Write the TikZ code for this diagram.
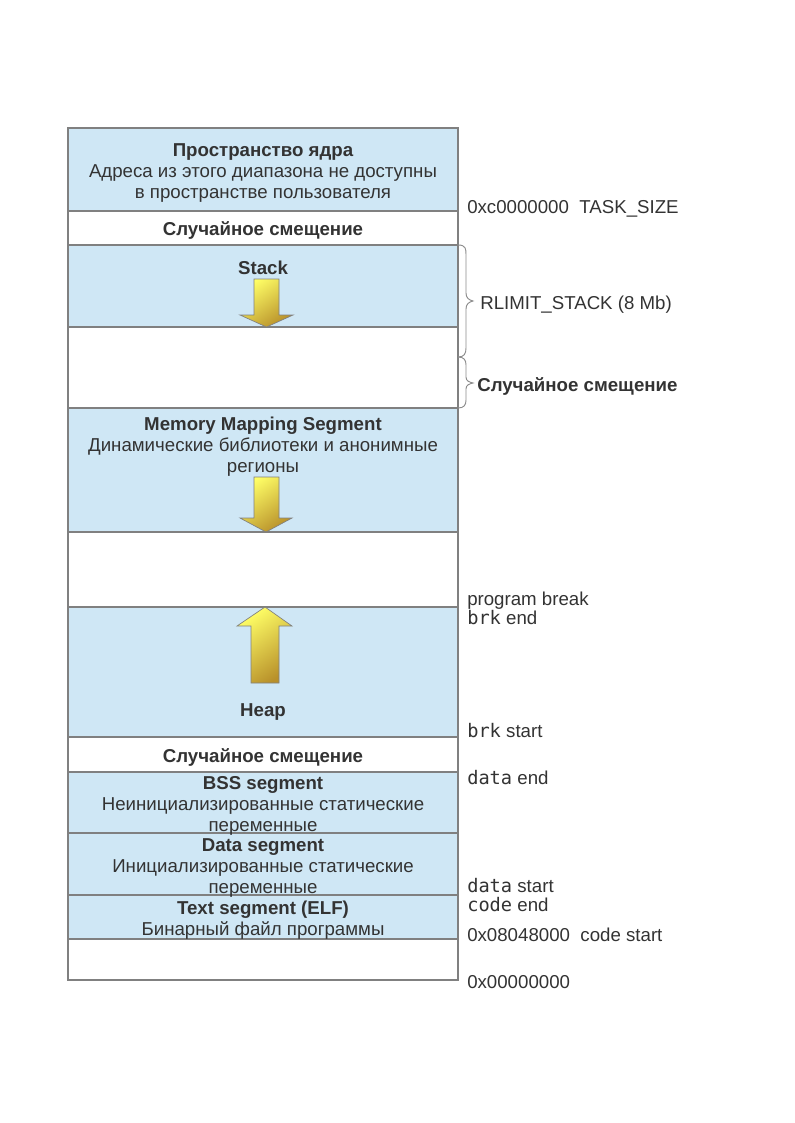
\documentclass[tikz,border=0pt]{standalone}
\usepackage{fontspec}
\setmainfont{Liberation Sans}
\newfontfamily\monof{DejaVu Sans Mono}
\definecolor{segblue}{HTML}{CFE7F5}
\definecolor{edge}{HTML}{808080}
\definecolor{txt}{HTML}{333333}
\definecolor{arrowtop}{HTML}{FFFF66}
\definecolor{arrowmid}{HTML}{F6EE58}
\definecolor{arrowbot}{HTML}{B8902A}
\tikzset{
  seg/.style={draw=edge, line width=0.8pt},
  lbl/.style={text=txt, inner sep=0pt, font=\fontsize{14pt}{15.75pt}\selectfont, anchor=mid, yshift=-3pt},
  blbl/.style={lbl, font=\fontsize{14pt}{15.75pt}\selectfont\bfseries},
  rlbl/.style={lbl, anchor=mid west},
  growarrow/.style={draw=edge, line width=0.5pt, top color=arrowtop, middle color=arrowmid, bottom color=arrowbot, shading angle=35},
  bracepath/.style={draw=edge!90, line width=0.7pt}
}
\begin{document}
\begin{tikzpicture}[x=0.75pt, y=-0.75pt]
\useasboundingbox[fill=white] (0,0) rectangle (794,1123);
% segments
\filldraw[seg, fill=segblue] (68,128) rectangle (458,211);
\filldraw[seg, fill=white] (68,211) rectangle (458,245);
\filldraw[seg, fill=segblue] (68,245) rectangle (458,327);
\filldraw[seg, fill=white] (68,327) rectangle (458,408);
\filldraw[seg, fill=segblue] (68,408) rectangle (458,532);
\filldraw[seg, fill=white] (68,532) rectangle (458,607);
\filldraw[seg, fill=segblue] (68,607) rectangle (458,737);
\filldraw[seg, fill=white] (68,737) rectangle (458,772);
\filldraw[seg, fill=segblue] (68,772) rectangle (458,833);
\filldraw[seg, fill=segblue] (68,833) rectangle (458,895);
\filldraw[seg, fill=segblue] (68,895) rectangle (458,939);
\filldraw[seg, fill=white] (68,939) rectangle (458,980);
% arrows
\path[growarrow] (254,279) -- (279,279) -- (279,315) -- (293,315) -- (266.5,327) -- (240,315) -- (254,315) -- cycle;
\path[growarrow] (254,477) -- (279,477) -- (279,518) -- (292,518) -- (266,532) -- (240,518) -- (254,518) -- cycle;
\path[growarrow] (265,607) -- (292,626) -- (279,626) -- (279,683) -- (251,683) -- (251,626) -- (237,626) -- cycle;
% braces
\path[bracepath] (458,245) .. controls (466,245) and (466,249) .. (466,255) -- (466,293) .. controls (466,298) and (469,300) .. (473,301) .. controls (469,302) and (466,304) .. (466,309) -- (466,348) .. controls (466,354) and (464,357) .. (458,357);
\path[bracepath] (458,357) .. controls (464,357) and (466,360) .. (466,365) -- (466,377) .. controls (466,381) and (469,382) .. (473,383) .. controls (469,384) and (466,385) .. (466,389) -- (466,400) .. controls (466,405) and (464,408) .. (458,408);
% box texts
\node[blbl] (k1) at (263,149) {Пространство ядра};
\node[lbl] (k2) at (263,170) {Адреса из этого диапазона не доступны};
\node[lbl] (k3) at (263,191) {в пространстве пользователя};
\node[blbl] (r1) at (263,228) {Случайное смещение};
\node[blbl] (st) at (263,267) {Stack};
\node[blbl] (m1) at (263,423) {Memory Mapping Segment};
\node[lbl] (m2) at (263,444) {Динамические библиотеки и анонимные};
\node[lbl] (m3) at (263,465) {регионы};
\node[blbl] (hp) at (263,709) {Heap};
\node[blbl] (r2) at (263,755) {Случайное смещение};
\node[blbl] (b1) at (263,782) {BSS segment};
\node[lbl] (b2) at (263,803) {Неинициализированные статические};
\node[lbl] (b3) at (263,824) {переменные};
\node[blbl] (d1) at (263,844) {Data segment};
\node[lbl] (d2) at (263,865) {Инициализированные статические};
\node[lbl] (d3) at (263,886) {переменные};
\node[blbl] (t1) at (263,907) {Text segment (ELF)};
\node[lbl] (t2) at (263,928) {Бинарный файл программы};
% right labels
\node[rlbl] (a1) at (467,206) {0xc0000000\hspace{0.56em}TASK\_SIZE};
\node[rlbl] (a2) at (480,302) {RLIMIT\_STACK (8 Mb)};
\node[rlbl, font=\fontsize{14pt}{15.75pt}\selectfont\bfseries] (a3) at (477,384) {Случайное смещение};
\node[rlbl] (a4) at (467,598) {program break};
\node[rlbl] (a5) at (467,617) {{\monof brk} end};
\node[rlbl] (a6) at (467,730) {{\monof brk} start};
\node[rlbl] (a7) at (467,777) {{\monof data} end};
\node[rlbl] (a8) at (467,885) {{\monof data} start};
\node[rlbl] (a9) at (467,904) {{\monof code} end};
\node[rlbl] (a10) at (467,934) {0x08048000\hspace{0.56em}code start};
\node[rlbl] (a11) at (467,981) {0x00000000};
\end{tikzpicture}
\end{document}
